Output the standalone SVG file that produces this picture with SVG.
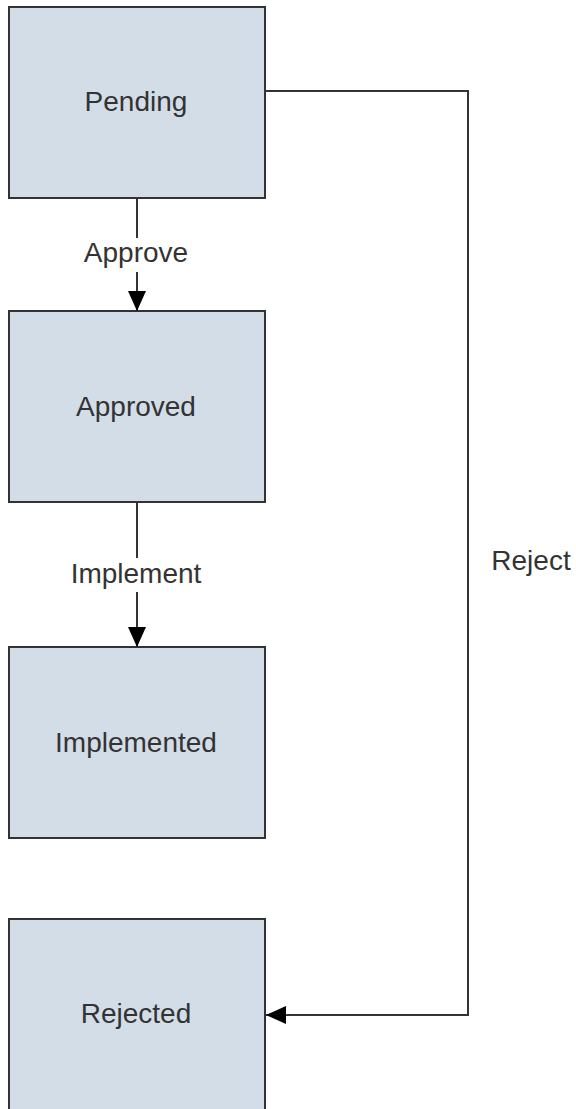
<svg xmlns="http://www.w3.org/2000/svg" width="576" height="1109" viewBox="0 0 576 1109">
<style>
.box{fill:#d3dde7;stroke:#333;stroke-width:2}
.lbl{font-family:"Liberation Sans",Arial,sans-serif;font-size:28px;fill:#333;text-anchor:middle}
.edge{fill:none;stroke:#333;stroke-width:2}
</style>
<defs>
<marker id="arr" markerWidth="20" markerHeight="18" refX="20" refY="9" orient="auto" markerUnits="userSpaceOnUse">
<path d="M0,0 L20,9 L0,18 Z" fill="#000"/>
</marker>
</defs>
<rect width="576" height="1109" fill="#fff"/>
<g id="pending"><rect class="box" x="9" y="7" width="256" height="191"/><text class="lbl" x="136" y="111">Pending</text></g>
<g id="approved"><rect class="box" x="9" y="311" width="256" height="191"/><text class="lbl" x="136" y="416">Approved</text></g>
<g id="implemented"><rect class="box" x="9" y="647" width="256" height="191"/><text class="lbl" x="136" y="752">Implemented</text></g>
<g id="rejected"><rect class="box" x="9" y="919" width="256" height="200"/><text class="lbl" x="136" y="1023">Rejected</text></g>
<g id="connectors">
<path class="edge" d="M137,198 V238"/>
<path class="edge" d="M137,272 V311" marker-end="url(#arr)"/>
<text class="lbl" x="136" y="262">Approve</text>
<path class="edge" d="M137,502 V558"/>
<path class="edge" d="M137,592 V647" marker-end="url(#arr)"/>
<text class="lbl" x="136" y="583">Implement</text>
<path class="edge" d="M265,91 H468 V1015 H266" marker-end="url(#arr)"/>
<text class="lbl" x="531" y="570">Reject</text>
</g>
</svg>
